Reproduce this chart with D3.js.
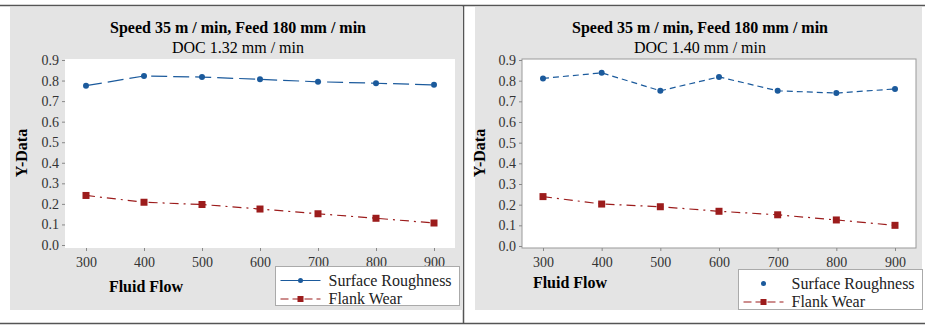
<!DOCTYPE html>
<html>
<head>
<meta charset="utf-8">
<script src="https://cdn.jsdelivr.net/npm/d3@7"></script>
<style>
  body { margin: 0; background: #fff; }
  text { font-family: "Liberation Serif", "Times New Roman", serif; }
</style>
</head>
<body>
<div id="chart"></div>
<script>
// Data
const fluidFlow = [300, 400, 500, 600, 700, 800, 900];
const yTicks = [0.0, 0.1, 0.2, 0.3, 0.4, 0.5, 0.6, 0.7, 0.8, 0.9];
const titleLine1 = "Speed 35 m / min, Feed 180 mm / min";
const docLeft = "DOC 1.32 mm / min";
const docRight = "DOC 1.40 mm / min";
const roughnessLeft = [0.775, 0.822, 0.817, 0.806, 0.794, 0.787, 0.779];
const wearLeft = [0.241, 0.208, 0.197, 0.175, 0.152, 0.130, 0.107];
const roughnessRight = [0.811, 0.838, 0.751, 0.818, 0.751, 0.740, 0.760];
const wearRight = [0.239, 0.203, 0.190, 0.168, 0.151, 0.126, 0.100];

const width = 925, height = 326;
const blue = "#1b5a9c", red = "#9c1c1c";

const svg = d3.select('#chart')
    .append('svg')
    .attr('width', width)
    .attr('height', height);

// outer frame lines
svg.append('line').attr('x1', 0).attr('x2', width).attr('y1', 5.5).attr('y2', 5.5)
    .attr('stroke', '#555').attr('stroke-width', 1.5);
svg.append('line').attr('x1', 0).attr('x2', width).attr('y1', 323.5).attr('y2', 323.5)
    .attr('stroke', '#555').attr('stroke-width', 1.5);
svg.append('line').attr('x1', 463.5).attr('x2', 463.5).attr('y1', 5).attr('y2', 324)
    .attr('stroke', '#555').attr('stroke-width', 1.5);

function drawPanel(opt) {
    const g = svg.append('g');

    // gray background of the graph window
    g.append('rect')
        .attr('x', opt.bg[0]).attr('y', 7)
        .attr('width', opt.bg[1] - opt.bg[0]).attr('height', 303)
        .attr('fill', '#e4e4e4');

    const xScale = d3.scaleLinear()
        .domain([300, 900])
        .range([opt.x300, opt.x900]);

    const yScale = d3.scaleLinear()
        .domain([0, 0.9])
        .range([opt.y0, opt.y9]);

    // plot area
    g.append('rect')
        .attr('x', opt.plot[0]).attr('y', 59)
        .attr('width', opt.plot[1] - opt.plot[0]).attr('height', 189)
        .attr('fill', '#fff')
        .attr('stroke', opt.border ? '#999' : 'none');

    // axes
    const yAxis = g.append('g')
        .attr('transform', `translate(${opt.plot[0]},0)`)
        .call(d3.axisLeft(yScale).tickValues(yTicks).tickFormat(d3.format('.1f')).tickSize(3));
    const xAxis = g.append('g')
        .attr('transform', `translate(0,248)`)
        .call(d3.axisBottom(xScale).tickValues(fluidFlow).tickSize(3));
    [xAxis, yAxis].forEach(a => {
        a.select('.domain').remove();
        a.selectAll('line').attr('stroke', '#888');
        a.selectAll('text')
            .style('font-family', '"Liberation Serif", serif')
            .style('font-size', '14px')
            .attr('fill', '#333');
    });
    xAxis.selectAll('text').attr('dy', '0.95em');

    // titles
    g.append('text')
        .attr('x', opt.titleX).attr('y', 33)
        .attr('text-anchor', 'middle')
        .style('font-size', '16px').style('font-weight', 'bold')
        .text(titleLine1);
    g.append('text')
        .attr('x', opt.titleX).attr('y', 53)
        .attr('text-anchor', 'middle')
        .style('font-size', '16px')
        .text(opt.doc);

    // axis labels
    g.append('text')
        .attr('x', -153).attr('y', opt.yLabelX)
        .attr('transform', 'rotate(-90)')
        .attr('text-anchor', 'middle')
        .style('font-size', '16px').style('font-weight', 'bold')
        .text('Y-Data');
    g.append('text')
        .attr('x', opt.xLabelX).attr('y', opt.xLabelY)
        .attr('text-anchor', 'middle')
        .style('font-size', '16px').style('font-weight', 'bold')
        .text('Fluid Flow');

    const line = d3.line()
        .x((d, i) => xScale(fluidFlow[i]))
        .y(d => yScale(d));

    // Surface Roughness
    g.append('path')
        .datum(opt.sr)
        .attr('d', line)
        .attr('fill', 'none')
        .attr('stroke', blue)
        .attr('stroke-width', 1.2)
        .attr('stroke-dasharray', opt.srDash);
    g.selectAll('.sr')
        .data(opt.sr)
        .enter().append('circle')
        .attr('cx', (d, i) => xScale(fluidFlow[i]))
        .attr('cy', d => yScale(d))
        .attr('r', 3)
        .attr('fill', blue);

    // Flank Wear
    g.append('path')
        .datum(opt.fw)
        .attr('d', line)
        .attr('fill', 'none')
        .attr('stroke', red)
        .attr('stroke-width', 1.2)
        .attr('stroke-dasharray', '9,5,2,5');
    g.selectAll('.fw')
        .data(opt.fw)
        .enter().append('rect')
        .attr('x', (d, i) => xScale(fluidFlow[i]) - 3.5)
        .attr('y', d => yScale(d) - 3.5)
        .attr('width', 7)
        .attr('height', 7)
        .attr('fill', red);

    // legend
    const lg = opt.legend;
    g.append('rect')
        .attr('x', lg.x).attr('y', lg.y)
        .attr('width', lg.w).attr('height', lg.h)
        .attr('fill', '#fff')
        .attr('stroke', '#aaa');
    const rows = [
        { name: 'Surface Roughness', color: blue, shape: 'circle', dash: lg.srLine ? null : 'none' },
        { name: 'Flank Wear', color: red, shape: 'square', dash: '8,4' }
    ];
    rows.forEach((r, i) => {
        const cy = lg.y + 14 + i * 18.5;
        const mid = lg.x + 25;
        if (r.dash !== 'none') {
            g.append('line')
                .attr('x1', lg.x + 5).attr('x2', lg.x + 45)
                .attr('y1', cy).attr('y2', cy)
                .attr('stroke', r.color).attr('stroke-width', 1.2)
                .attr('stroke-dasharray', r.dash);
        }
        if (r.shape === 'circle') {
            g.append('circle').attr('cx', mid).attr('cy', cy).attr('r', 2.5).attr('fill', r.color);
        } else {
            g.append('rect').attr('x', mid - 3).attr('y', cy - 3).attr('width', 6).attr('height', 6).attr('fill', r.color);
        }
        g.append('text')
            .attr('x', lg.x + 53).attr('y', cy + 5)
            .style('font-size', '16px')
            .attr('fill', '#222')
            .text(r.name);
    });
}

drawPanel({
    bg: [10, 463], plot: [65, 455], border: false,
    x300: 86, x900: 434, y0: 245, y9: 60,
    titleX: 238, doc: docLeft, yLabelX: 27, xLabelX: 146, xLabelY: 292,
    sr: roughnessLeft, fw: wearLeft, srDash: '16,6',
    legend: { x: 275.5, y: 266.5, w: 184, h: 39, srLine: true }
});

drawPanel({
    bg: [475, 922], plot: [522, 916], border: true,
    x300: 543, x900: 895, y0: 246, y9: 60,
    titleX: 700, doc: docRight, yLabelX: 485, xLabelX: 570, xLabelY: 288,
    sr: roughnessRight, fw: wearRight, srDash: '6,4',
    legend: { x: 738.5, y: 269.5, w: 184, h: 40, srLine: false }
});
</script>
</body>
</html>
